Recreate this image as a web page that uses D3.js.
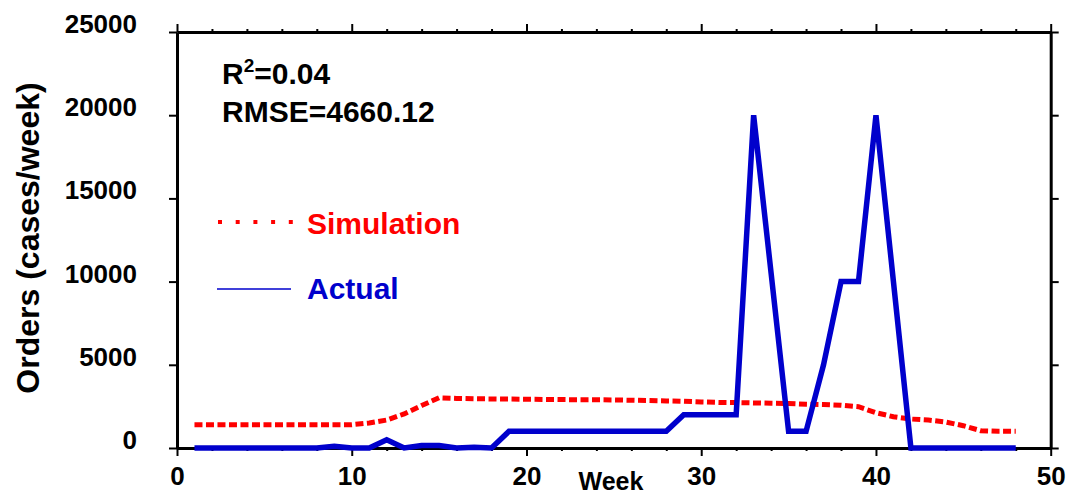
<!DOCTYPE html>
<html>
<head>
<meta charset="utf-8">
<script src="https://cdn.jsdelivr.net/npm/d3@7"></script>
<style>
  body { margin: 0; background: #fff; }
  text { font-family: "Liberation Sans", Arial, sans-serif; font-weight: bold; }
</style>
</head>
<body>
<script>
const weeks = [1,2,3,4,5,6,7,8,9,10,11,12,13,14,15,16,17,18,19,20,21,22,23,24,
  25,26,27,28,29,30,31,32,33,34,35,36,37,38,39,40,41,42,43,44,45,46,47,48]

const simulation = [1400,1400,1400,1400,1400,1400,1400,1400,1400,1400,
  1500,1680,2050,2550,3020,2980,2960,2950,2940,2930,2920,2910,2900,2900,2890,
  2870,2850,2830,2810,2770,2740,2730,2710,2690,2670,2630,2610,2570,2480,2120,
  1880,1740,1680,1560,1340,1040,1000,1000]

const actual = [0,0,0,0,0,0,0,0,100,0,0,500,0,150,150,0,50,0,
  1000,1000,1000,1000,1000,1000,1000,1000,1000,1000,
  2000,2000,2000,2000,20000,10500,1000,1000,5000,10000,10000,20000,10000,
  0,0,0,0,0,0,0]

const xMajor = [0,10,20,30,40,50]
const xMinor = [2,4,6,8,12,14,16,18,22,24,26,28,32,34,36,38,42,44,46,48]
const yTicks = [0,5000,10000,15000,20000,25000]

const width = 1071, height = 495

const svg = d3.select("body")
    .append("svg")
    .attr("width", width)
    .attr("height", height)

const x = d3.scaleLinear().domain([0,50]).range([177,1050.7])
const y = d3.scaleLinear().domain([0,25000]).range([448,32])

// frame: four axes, all ticks pointing outward
function styleAxis(g){
    g.select(".domain").attr("stroke-width",3)
    g.selectAll(".tick line").attr("stroke-width",2)
    g.selectAll("text").attr("font-size",26).attr("fill","#000")
}

svg.append("g").attr("transform","translate(0,448)")
    .call(d3.axisBottom(x).tickValues(xMajor).tickSize(8).tickSizeOuter(0).tickPadding(11))
    .call(styleAxis)
svg.append("g").attr("transform","translate(0,448)")
    .call(d3.axisBottom(x).tickValues(xMinor).tickSize(3).tickSizeOuter(0).tickFormat(""))
    .call(styleAxis)
svg.append("g").attr("transform","translate(0,32)")
    .call(d3.axisTop(x).tickValues(xMajor).tickSize(8).tickSizeOuter(0).tickFormat(""))
    .call(styleAxis)
svg.append("g").attr("transform","translate(0,32)")
    .call(d3.axisTop(x).tickValues(xMinor).tickSize(3).tickSizeOuter(0).tickFormat(""))
    .call(styleAxis)

const yl = svg.append("g").attr("transform","translate(177,0)")
    .call(d3.axisLeft(y).tickValues(yTicks).tickSize(8).tickSizeOuter(0).tickPadding(32)
        .tickFormat(d3.format("d")))
    .call(styleAxis)
yl.selectAll("text").attr("dy","0.02em")

svg.append("g").attr("transform","translate(1050.7,0)")
    .call(d3.axisRight(y).tickValues(yTicks).tickSize(8).tickSizeOuter(0).tickFormat(""))
    .call(styleAxis)

// axis titles
svg.append("text")
    .attr("transform","translate(39,238) rotate(-90)")
    .attr("text-anchor","middle")
    .attr("font-size",32)
    .text("Orders (cases/week)")

svg.append("text")
    .attr("x",611).attr("y",490)
    .attr("text-anchor","middle")
    .attr("font-size",25)
    .text("Week")

// series
const line = (vals) => d3.line()
    .x((d,i) => x(weeks[i]))
    .y(d => y(d))(vals)

svg.append("path")
    .attr("d", line(simulation))
    .attr("fill","none")
    .attr("stroke","#ff0000")
    .attr("stroke-width",5)
    .attr("stroke-dasharray","8,3.5")

svg.append("path")
    .attr("d", line(actual))
    .attr("fill","none")
    .attr("stroke","#0000cc")
    .attr("stroke-width",5.5)

// fit statistics
const r2 = svg.append("text").attr("x",222).attr("y",84).attr("font-size",30)
r2.append("tspan").text("R")
r2.append("tspan").attr("font-size",19).attr("dy",-12).text("2")
r2.append("tspan").attr("dy",12).text("=0.04")

svg.append("text").attr("x",222).attr("y",122).attr("font-size",30).text("RMSE=4660.12")

// legend
svg.append("line")
    .attr("x1",218).attr("x2",294).attr("y1",222).attr("y2",222)
    .attr("stroke","#ff0000").attr("stroke-width",4)
    .attr("stroke-dasharray","4,13.7")
svg.append("text").attr("x",307).attr("y",234).attr("font-size",30)
    .attr("fill","#ff0000").text("Simulation")

svg.append("line")
    .attr("x1",217).attr("x2",291).attr("y1",289).attr("y2",289)
    .attr("stroke","#0000cc").attr("stroke-width",1.5)
svg.append("text").attr("x",307).attr("y",299).attr("font-size",30)
    .attr("fill","#0000cc").text("Actual")
</script>
</body>
</html>
